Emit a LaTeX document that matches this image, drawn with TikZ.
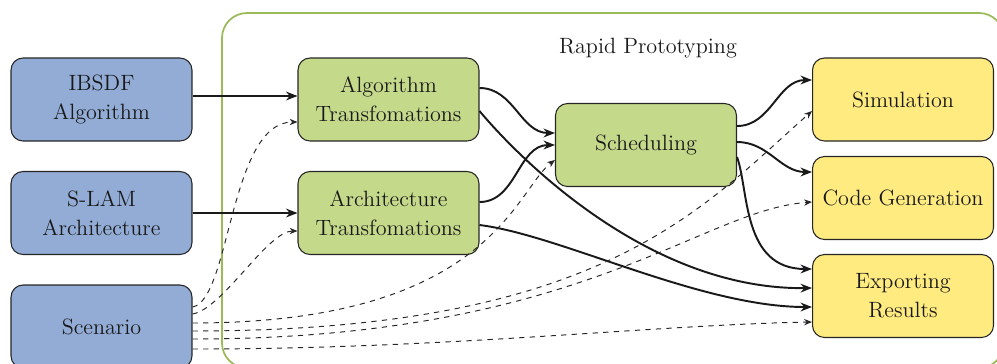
\documentclass[tikz,border=0pt]{standalone}
\usetikzlibrary{arrows.meta, calc}

\definecolor{inblue}{RGB}{146,172,214}
\definecolor{trgreen}{RGB}{197,217,138}
\definecolor{outyellow}{RGB}{255,235,128}
\definecolor{framegreen}{RGB}{155,187,89}

\begin{document}
\begin{tikzpicture}[x=0.02cm, y=-0.02cm,
    font=\fontsize{12.6}{16.5}\selectfont,
    block/.style={draw=black!85, line width=0.6pt, rounded corners=0.24cm,
                  minimum width=3.62cm, minimum height=1.66cm,
                  align=center, inner sep=2pt, text=black!90},
    flow/.style={-{Stealth[length=6.5pt, width=5pt]}, line width=1.1pt, black!90},
    scenflow/.style={-{Stealth[length=4.5pt, width=3.6pt]}, line width=0.55pt,
                     dashed, black!85}]
    \useasboundingbox (0,0) rectangle (997,363);
    \clip (0,0) rectangle (997,363);
    % frame
    \draw[framegreen, line width=1pt, rounded corners=0.5cm]
      (222,13) rectangle (1004,368);
    \node[text=black!90] (rapid) at (648,48) {Rapid Prototyping};
    % inputs
    \node[block, fill=inblue] (ibsdf) at (101.5,99.5) {IBSDF\\Algorithm};
    \node[block, fill=inblue] (slam) at (101.5,213) {S-LAM\\Architecture};
    \node[block, fill=inblue] (scen) at (101.5,326.5) {Scenario};
    % prototyping steps
    \node[block, fill=trgreen] (algo) at (388.5,99.5)
      {Algorithm\\Transfomations};
    \node[block, fill=trgreen] (arch) at (388.5,213)
      {Architecture\\Transfomations};
    \node[block, fill=trgreen] (sched) at (646,145) {Scheduling};
    % outputs
    \node[block, fill=outyellow] (sim) at (903,99.5) {Simulation};
    \node[block, fill=outyellow] (code) at (903,198) {Code Generation};
    \node[block, fill=outyellow] (exp) at (903,296) {Exporting\\Results};
    % solid flows
    \draw[flow] ($(ibsdf.east)+(0,-3.5)$) -- ($(algo.west)+(0,-3.5)$);
    \draw[flow] (slam) -- (arch);
    \draw[flow] ($(algo.east)+(0,-11.5)$) to[out=0, in=180]
      ($(sched.west)+(0,-12)$);
    \draw[flow] ($(algo.east)+(0,11.5)$) .. controls +(41,49) and +(-162,2) ..
      ($(exp.west)+(0,-8)$);
    \draw[flow] ($(arch.east)+(0,-11)$) to[out=0, in=180] (sched.west);
    \draw[flow] ($(arch.east)+(0,12)$) .. controls +(81,10) and +(-112,0) ..
      ($(exp.west)+(0,11)$);
    \draw[flow] ($(sched.east)+(0,-19)$) to[out=0, in=180]
      ($(sim.west)+(0,-19.5)$);
    \draw[flow] ($(sched.east)+(0,-3)$) to[out=0, in=180]
      ($(code.west)+(0,-26)$);
    \draw[flow] ($(sched.east)+(0,12)$) .. controls +(12,33) and +(-70,0) ..
      ($(exp.west)+(0,-27)$);
    % scenario flows
    \draw[scenflow] ($(scen.east)+(0,-19.5)$) .. controls +(38,-7) and +(-68,0) ..
      ($(algo.west)+(0,22.5)$);
    \draw[scenflow] ($(scen.east)+(0,-12.5)$) .. controls +(30,-5) and +(-30,0) ..
      ($(arch.west)+(0,18)$);
    \draw[scenflow] ($(scen.east)+(0,-3.5)$) .. controls +(298,0) and +(-40,30) ..
      ($(sched.west)+(0,15)$);
    \draw[scenflow] ($(scen.east)+(0,4.5)$) .. controls +(408,0) and +(-112,99) ..
      ($(sim.west)+(0,11.5)$);
    \draw[scenflow] ($(scen.east)+(0,12.5)$) .. controls +(388,0) and +(-112,8) ..
      ($(code.west)+(0,4)$);
    \draw[scenflow] ($(scen.east)+(0,22.5)$) .. controls +(258,0) and +(-162,3) ..
      ($(exp.west)+(0,26)$);
\end{tikzpicture}
\end{document}
